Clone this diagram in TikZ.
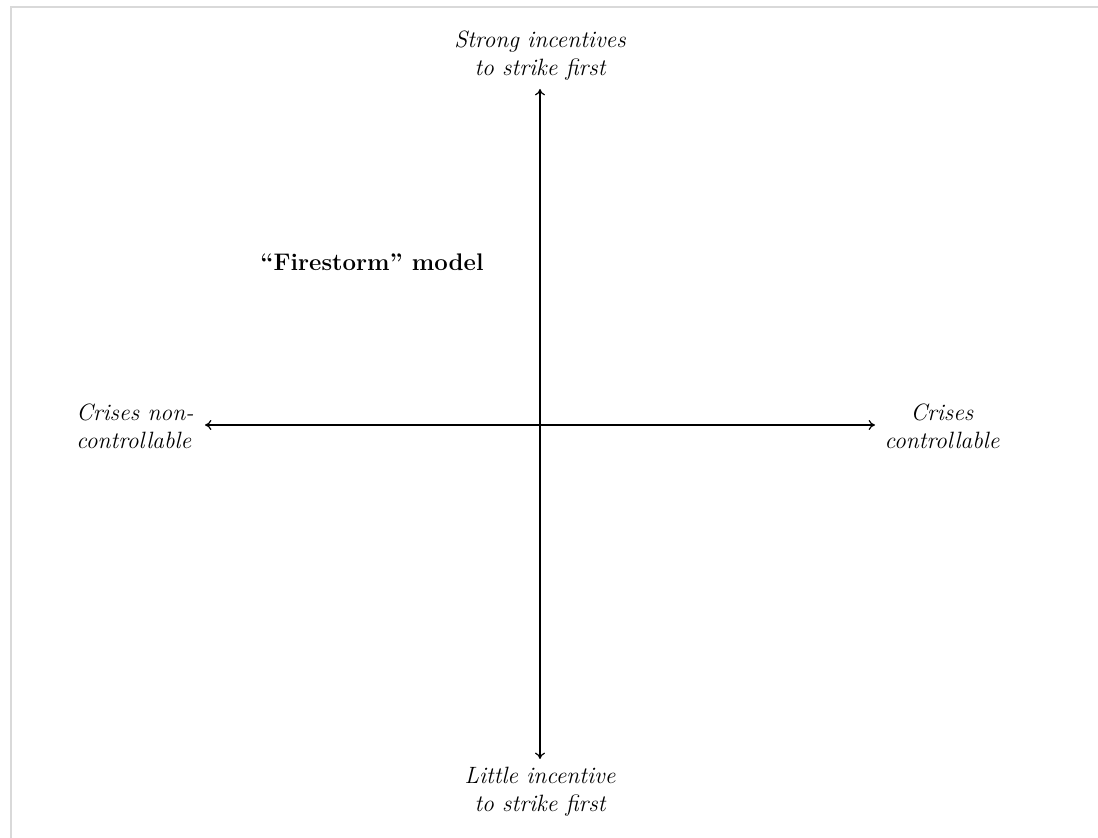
\documentclass[tikz,border=0pt]{standalone}
\usetikzlibrary{arrows.meta}
\begin{document}
\begin{tikzpicture}[x=0.5pt,y=-0.5pt,
  axis/.style={line width=0.6pt,{To[length=3.2pt,width=5pt]}-{To[length=3.2pt,width=5pt]}},
  lab/.style={font=\fontsize{11.8}{14}\selectfont\itshape,align=center,inner sep=0pt},
  frame/.style={draw=black!15,line width=0.8pt}]
\useasboundingbox (0,0) rectangle (1098,838);
\coordinate (fa) at (11,838);
\coordinate (fb) at (11,7);
\coordinate (fc) at (1098,7);
\draw[frame] (fa) -- (fb) -- (fc);
\coordinate (T) at (540,89);
\coordinate (B) at (540,759);
\coordinate (L) at (205,425);
\coordinate (R) at (875,425);
\draw[axis] (B) -- (T);
\draw[axis] (L) -- (R);
\node[lab] (top) at (540,56) {Strong incentives\\to strike first};
\node[lab] (bot) at (540,792) {Little incentive\\to strike first};
\node[lab,align=left,anchor=west] (left) at (76,426) {Crises non-\\controllable};
\node[lab] (right) at (942,426) {Crises\\controllable};
\node[font=\fontsize{12}{14}\selectfont\bfseries,inner sep=0pt] (fs) at (372,262) {``Firestorm'' model};
\end{tikzpicture}
\end{document}
